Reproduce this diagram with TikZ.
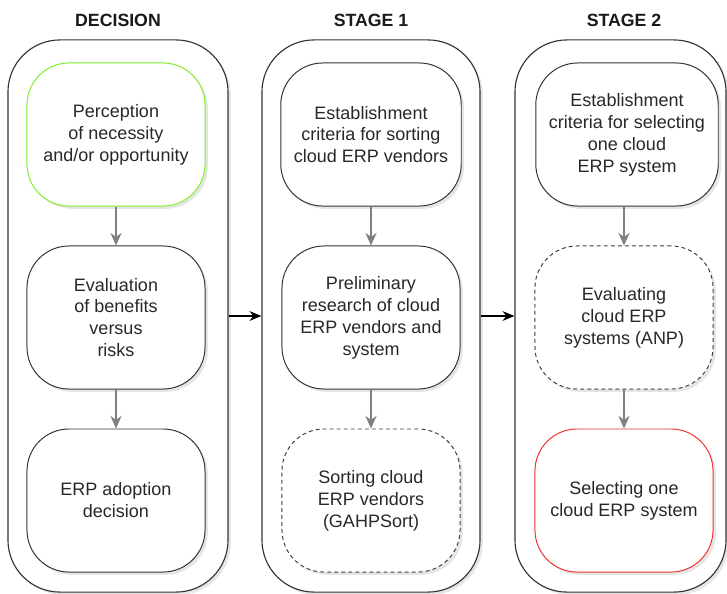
\documentclass[tikz,border=0pt]{standalone}
\usepackage{fontspec}
\setmainfont{Liberation Sans}
\usetikzlibrary{shapes,arrows.meta,shadows,positioning}
\definecolor{limegreen}{RGB}{128,240,40}
\definecolor{brightred}{RGB}{240,50,50}
\definecolor{textgray}{RGB}{40,40,40}
\definecolor{flowgray}{RGB}{128,128,128}

\begin{document}
\begin{tikzpicture}[x=0.025cm,y=-0.025cm]
\tikzstyle{stage}=[rectangle, rounded corners=1.3cm, draw=black!80, line width=0.8pt, fill=white, minimum width=5.5cm, minimum height=13.8cm, drop shadow={opacity=0.2, shadow xshift=2pt, shadow yshift=-2pt}]
\tikzstyle{task}=[rectangle, rounded corners=1.05cm, draw=black!80, line width=0.7pt, fill=white, minimum width=4.45cm, minimum height=3.575cm, inner xsep=0.33cm, align=center, text=textgray, font=\fontsize{12.8}{15.6}\selectfont, drop shadow={opacity=0.2, shadow xshift=2pt, shadow yshift=-2pt}]
\tikzstyle{open}=[dash pattern=on 2.8pt off 2.2pt, draw=black!75]
\tikzstyle{title}=[font=\fontsize{12.6}{15}\selectfont\bfseries, text=black!90]
\tikzstyle{flow}=[-{Stealth[length=9pt,width=8pt]}, draw=flowgray, line width=1pt]
\tikzstyle{connect}=[-{Stealth[length=8.5pt,width=7pt]}, black, line width=0.8pt]

\useasboundingbox (0,0) rectangle (727,593);

\node[title] (t_dec) at (118,20) {DECISION};
\node[title] (t_st1) at (371,20) {STAGE 1};
\node[title] (t_st2) at (624,20) {STAGE 2};

\node[stage] (dec) at (118,316) {};
\node[stage, minimum width=5.45cm] (st1) at (371,316) {};
\node[stage, minimum width=5.275cm] (st2) at (620.5,316) {};

\node[task, draw=limegreen] (d_1) at (116,134.5) {Perception\\of necessity\\and/or opportunity};
\node[task] (d_2) at (116,317.5) {Evaluation\\of benefits\\versus\\risks};
\node[task] (d_3) at (116,500.5) {ERP adoption\\decision};

\node[task] (s1_1) at (371,134.5) {Establishment\\criteria for sorting\\cloud ERP vendors};
\node[task] (s1_2) at (371,317.5) {Preliminary\\research of cloud\\ERP vendors and\\system};
\node[task, open] (s1_3) at (371,500.5) {Sorting cloud\\ERP vendors\\(GAHPSort)};

\node[task] (s2_1) at (627,134.5) {Establishment\\criteria for selecting\\one cloud\\ERP system};
\node[task, open] (s2_2) at (624,317.5) {Evaluating\\cloud ERP\\systems (ANP)};
\node[task, draw=brightred] (s2_3) at (624,500.5) {Selecting one\\cloud ERP system};

\path
	(d_1) edge[flow] (d_2)
	(d_2) edge[flow] (d_3)
	(s1_1) edge[flow] (s1_2)
	(s1_2) edge[flow] (s1_3)
	(s2_1.south -| s2_2) edge[flow] (s2_2)
	(s2_2) edge[flow] (s2_3);

\path
	(dec) edge[connect] (st1)
	(st1) edge[connect] (st2);

\end{tikzpicture}
\end{document}
